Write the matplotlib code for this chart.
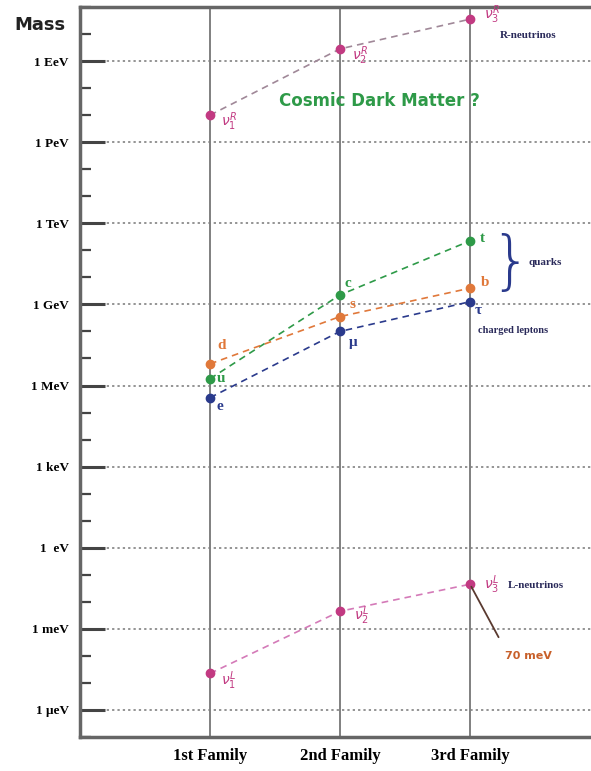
import matplotlib
matplotlib.use('Agg')
import matplotlib.pyplot as plt

# Data: log10(mass / eV) per family
families = [1, 2, 3]
family_labels = ['1st Family', '2nd Family', '3rd Family']

nu_r = [16.0, 18.45, 19.55]
up_q = [6.25, 9.35, 11.35]      # u, c, t
down_q = [6.8, 8.55, 9.6]       # d, s, b
leptons = [5.55, 8.0, 9.1]      # e, mu, tau
nu_l = [-4.65, -2.35, -1.35]

tick_vals = [18, 15, 12, 9, 6, 3, 0, -3, -6]
tick_names = ['1 EeV', '1 PeV', '1 TeV', '1 GeV', '1 MeV', '1 keV', '1  eV', '1 meV', '1 \u03bceV']
minor_vals = [v for v in range(-7, 21) if v % 3 != 0]

up_names = ['u', 'c', 't']
down_names = ['d', 's', 'b']
lep_names = ['e', '\u03bc', '\u03c4']
nu_r_names = [r'$\nu_1^R$', r'$\nu_2^R$', r'$\nu_3^R$']
nu_l_names = [r'$\nu_1^L$', r'$\nu_2^L$', r'$\nu_3^L$']

PINK = '#c23a82'
ORANGE = '#e0783a'
GREEN = '#2e9a48'
BLUE = '#2a3a8c'
NAVY = '#2a2a5a'
SERIF = 'Liberation Serif'

fig = plt.figure(figsize=(5.91, 7.71), dpi=100)
ax = fig.add_axes([80 / 591, 34 / 771, 1 - 80 / 591, (737 - 7) / 771])
ax.set_xlim(0, 511 / 130)
ax.set_ylim(-7, 20)

# grid
for v in tick_vals:
    ax.axhline(v, color='#777777', lw=1.1, ls=(0, (1.5, 2)), zorder=1)
for f in families:
    ax.axvline(f, color='#808080', lw=1.4, zorder=1)

# series
dash = (0, (4, 3))
ax.plot(families, nu_r, color='#a08898', lw=1.2, ls=dash, zorder=2)
ax.plot(families, nu_l, color='#d47ab8', lw=1.2, ls=dash, zorder=2)
ax.plot(families, up_q, color=GREEN, lw=1.2, ls=dash, zorder=2)
ax.plot(families, down_q, color=ORANGE, lw=1.2, ls=dash, zorder=2)
ax.plot(families, leptons, color=BLUE, lw=1.2, ls=dash, zorder=2)
for ys, c in [(nu_r, PINK), (nu_l, PINK), (up_q, GREEN), (down_q, ORANGE), (leptons, BLUE)]:
    ax.plot(families, ys, 'o', color=c, ms=6, zorder=3)

# point labels (offsets in points)
def label(x, y, s, c, dx, dy, size=11, **kw):
    ax.annotate(s, (x, y), xytext=(dx, dy), textcoords='offset points',
                color=c, fontsize=size, ha='left', va='center', **kw)

offs_up = [(5, 0), (3, 8), (7, 2)]
offs_down = [(5, 13), (7, 9), (8, 4)]
offs_lep = [(5, -6), (6, -8), (3, -6)]
for i, f in enumerate(families):
    label(f, up_q[i], up_names[i], GREEN, *offs_up[i], family=SERIF, weight='bold')
    label(f, down_q[i], down_names[i], ORANGE, *offs_down[i], family=SERIF, weight='bold')
    label(f, leptons[i], lep_names[i], BLUE, *offs_lep[i], family=SERIF, weight='bold')

offs_nr = [(8, -5), (9, -5), (10, 3)]
offs_nl = [(8, -5), (10, -3), (10, 0)]
for i, f in enumerate(families):
    label(f, nu_r[i], nu_r_names[i], PINK, *offs_nr[i], size=10)
    label(f, nu_l[i], nu_l_names[i], PINK, *offs_nl[i], size=10)

# annotations
ax.text(3.23, 18.93, 'R-neutrinos', color=NAVY, fontsize=8, family=SERIF, weight='bold', va='center')
ax.text(2.3, 16.52, 'Cosmic Dark Matter ?', color=GREEN, fontsize=12, weight='bold',
        ha='center', va='center')
ax.text(3.31, 10.5, '}', color=BLUE, fontsize=46, family='DejaVu Sans', weight='light',
        ha='center', va='center')
ax.text(3.45, 10.56, 'quarks', color=NAVY, fontsize=8, family=SERIF, weight='bold', va='center')
ax.text(3.06, 8.05, 'charged leptons', color=NAVY, fontsize=7.5, family=SERIF, weight='bold',
        va='center')
ax.text(3.29, -1.38, 'L-neutrinos', color=NAVY, fontsize=8, family=SERIF, weight='bold', va='center')
ax.annotate('', xy=(families[2], nu_l[2]), xytext=(3.23, -3.4),
            arrowprops=dict(arrowstyle='-', color='#5a3a30', lw=1.3))
ax.text(3.27, -4.0, '70 meV', color='#c8602a', fontsize=8, weight='bold', va='center')

# axes
ax.set_yticks(tick_vals)
ax.set_yticklabels(tick_names, family=SERIF, weight='bold', fontsize=9.5)
ax.set_yticks(minor_vals, minor=True)
ax.tick_params(axis='y', which='major', direction='in', length=18, width=2.2,
               color='#444444', pad=8)
ax.tick_params(axis='y', which='minor', direction='in', length=8, width=1.6, color='#444444')
ax.set_xticks(families)
ax.set_xticklabels(family_labels, family=SERIF, weight='bold', fontsize=12)
ax.tick_params(axis='x', length=0, pad=8)

for side in ['left', 'bottom', 'top']:
    ax.spines[side].set_color('#666666')
    ax.spines[side].set_linewidth(2.5)
ax.spines['right'].set_visible(False)

fig.text(40 / 591, 1 - 25 / 771, 'Mass', fontsize=13, weight='bold', ha='center', va='center',
         color='#222222')

fig.savefig('out.png', dpi=100)
